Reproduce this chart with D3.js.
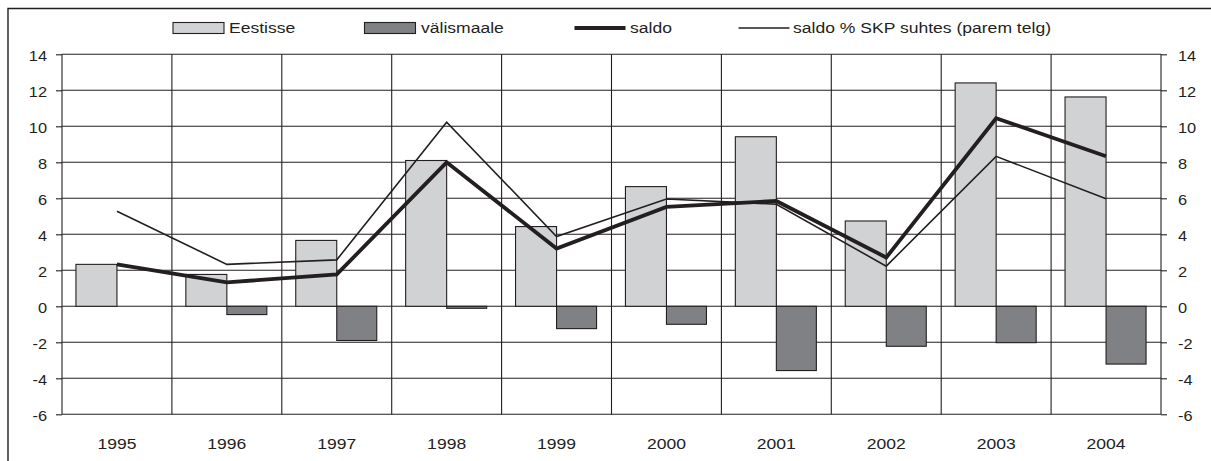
<!DOCTYPE html>
<html><head><meta charset="utf-8">
<script src="https://cdn.jsdelivr.net/npm/d3@7"></script>
<style>
html,body{margin:0;padding:0;background:#fff;}
svg{display:block;font-family:"Liberation Sans",Arial,sans-serif;}
</style></head>
<body>
<svg id="c" width="1211" height="461"></svg>
<script>
const years = ["1995","1996","1997","1998","1999","2000","2001","2002","2003","2004"];
const eestisse = [2.33, 1.77, 3.66, 8.1, 4.43, 6.65, 9.42, 4.74, 12.41, 11.63];
const valismaale = [0, -0.46, -1.9, -0.11, -1.24, -1.0, -3.57, -2.22, -2.02, -3.21];
const saldo = [2.33, 1.33, 1.77, 8.0, 3.21, 5.52, 5.85, 2.71, 10.45, 8.34];
const saldoSKP = [5.28, 2.33, 2.58, 10.23, 3.88, 5.96, 5.67, 2.23, 8.33, 5.98];
const yTicks = [-6, -4, -2, 0, 2, 4, 6, 8, 10, 12, 14];
const legendLabels = ["Eestisse", "välismaale", "saldo", "saldo % SKP suhtes (parem telg)"];

const ink = "#231f20", light = "#d1d2d4", dark = "#808184";
const svg = d3.select("#c");
const L = 62, R = 1161, T = 54.3, B = 414.3;

const x0 = d3.scaleBand().domain(years).range([L, R]).paddingInner(0).paddingOuter(0);
const x1 = d3.scaleBand().domain(["e", "v"]).range([0, x0.bandwidth()]).paddingInner(0).paddingOuter(0.34);
const y = d3.scaleLinear().domain([-6, 14]).range([B, T]);
const yR = d3.scaleLinear().domain([-6, 14]).range([B, T]);

// outer frame
svg.append("path").attr("d", `M8,461 L8,8.5 L1211,8.5`).attr("fill", "none").attr("stroke", ink).attr("stroke-width", 1.4);

// horizontal gridlines
svg.append("g").selectAll("line").data(yTicks).join("line")
  .attr("x1", L).attr("x2", R).attr("y1", d => y(d)).attr("y2", d => y(d))
  .attr("stroke", ink).attr("stroke-width", 1.1);
// vertical gridlines
const bounds = years.map(d => x0(d)).concat([R]);
svg.append("g").selectAll("line").data(bounds).join("line")
  .attr("x1", d => d).attr("x2", d => d).attr("y1", T).attr("y2", B)
  .attr("stroke", ink).attr("stroke-width", 1.1);

// axes
const fmt = d => String(d);
const gl = svg.append("g").attr("transform", `translate(${L},0)`)
  .call(d3.axisLeft(y).tickValues(yTicks).tickSize(6).tickPadding(9).tickFormat(fmt));
const gr = svg.append("g").attr("transform", `translate(${R},0)`)
  .call(d3.axisRight(yR).tickValues(yTicks).tickSize(6).tickPadding(11).tickFormat(fmt));
[gl, gr].forEach(g => {
  g.select(".domain").remove();
  g.selectAll("line").attr("stroke", ink).attr("stroke-width", 1.1);
  g.selectAll("text").attr("fill", ink).attr("font-size", 14).attr("dy", "6.5").attr("font-family", "Liberation Sans, Arial, sans-serif");
});

// bars
const idx = d => years.indexOf(d);
const bars = svg.append("g");
bars.selectAll("rect.e").data(years).join("rect").attr("class", "e")
  .attr("x", d => x0(d) + x1("e")).attr("width", x1.bandwidth())
  .attr("y", d => y(Math.max(0, eestisse[idx(d)]))).attr("height", d => Math.abs(y(eestisse[idx(d)]) - y(0)))
  .attr("fill", light).attr("stroke", ink).attr("stroke-width", 1.1);
bars.selectAll("rect.v").data(years.filter(d => valismaale[idx(d)] !== 0)).join("rect").attr("class", "v")
  .attr("x", d => x0(d) + x1("v")).attr("width", x1.bandwidth() - 1)
  .attr("y", d => y(Math.max(0, valismaale[idx(d)]))).attr("height", d => Math.abs(y(valismaale[idx(d)]) - y(0)))
  .attr("fill", dark).attr("stroke", ink).attr("stroke-width", 1.1);

// lines
const cx = d => x0(d) + x0.bandwidth() / 2;
const lineL = d3.line().x((d, i) => cx(years[i])).y(d => y(d));
const lineR = d3.line().x((d, i) => cx(years[i])).y(d => yR(d));
svg.append("path").attr("d", lineR(saldoSKP)).attr("fill", "none").attr("stroke", ink).attr("stroke-width", 1.6).attr("stroke-linejoin", "miter");
svg.append("path").attr("d", lineL(saldo)).attr("fill", "none").attr("stroke", ink).attr("stroke-width", 3.8).attr("stroke-linejoin", "miter");

// x labels
svg.append("g").selectAll("text").data(years).join("text")
  .attr("x", d => cx(d)).attr("y", 449).attr("text-anchor", "middle")
  .attr("font-size", 15).attr("fill", ink).text(d => d);

// legend
const lg = svg.append("g");
const sw = [
  {type: "rect", x: 173, fill: light, tx: 229},
  {type: "rect", x: 364.5, fill: dark, tx: 421},
  {type: "line", x: 574.5, w: 3.8, tx: 630},
  {type: "line", x: 738.5, w: 1.6, tx: 793}
];
sw.forEach((s, i) => {
  if (s.type === "rect") {
    lg.append("rect").attr("x", s.x).attr("y", 22.5).attr("width", 51).attr("height", 11)
      .attr("fill", s.fill).attr("stroke", ink).attr("stroke-width", 1.1);
  } else {
    lg.append("line").attr("x1", s.x).attr("x2", s.x + 51).attr("y1", 28).attr("y2", 28)
      .attr("stroke", ink).attr("stroke-width", s.w);
  }
  lg.append("text").attr("x", s.tx).attr("y", 33.3).attr("font-size", 15).attr("fill", ink).text(legendLabels[i]);
});

// horizontal stretch of text to match the reference's wide glyphs
svg.selectAll("text").each(function () {
  const xx = +this.getAttribute("x") || 0;
  const yy = +this.getAttribute("y") || 0;
  this.setAttribute("transform", `translate(${xx},${yy}) scale(1.17,1) translate(${-xx},${-yy})`);
});
</script>
</body></html>
